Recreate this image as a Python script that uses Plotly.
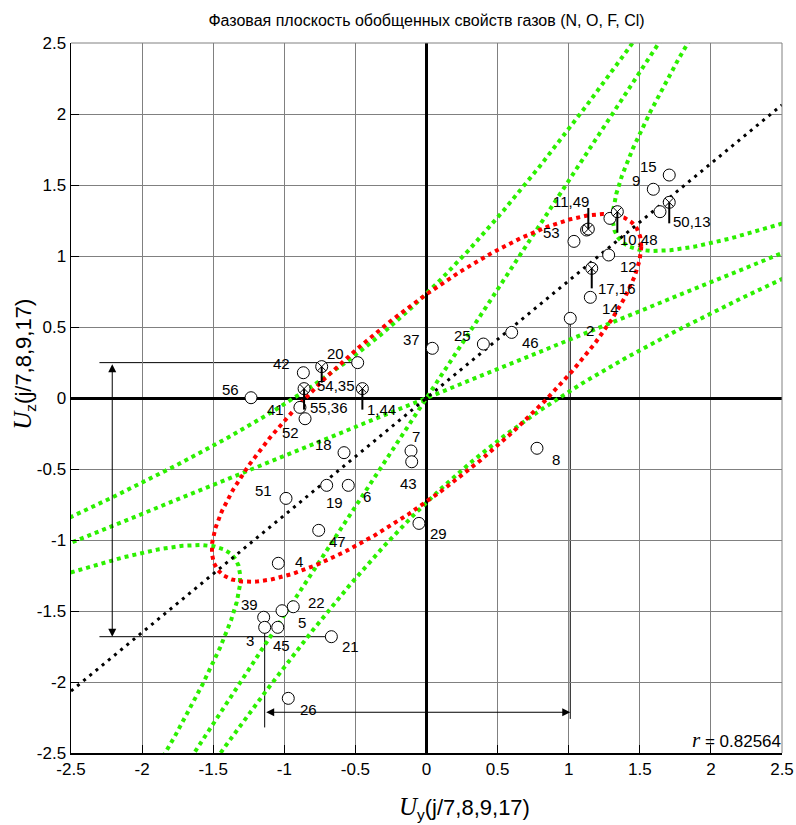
import numpy as np
import plotly.graph_objects as go

# ---------------- data ----------------
TITLE = "Фазовая плоскость обобщенных свойств газов (N, O, F, Cl)"
R_COEF = 0.82564

pt_labels = ["15", "9", "50,13", "", "10,48", "", "11,49", "", "53", "12",
             "17,16", "14", "2", "46", "25", "37", "20", "42", "54,35", "55,36",
             "41", "52", "1,44", "56", "18", "19", "6", "51", "7", "43",
             "8", "29", "47", "4", "22", "5", "39", "3", "45", "21", "26"]
pt_x = [1.707, 1.595, 1.707, 1.642, 1.342, 1.290, 1.138, 1.126, 1.037, 1.281,
        1.162, 1.152, 1.011, 0.599, 0.400, 0.041, -0.484, -0.866, -0.737, -0.861,
        -0.890, -0.854, -0.451, -1.234, -0.580, -0.702, -0.550, -0.988, -0.109, -0.104,
        0.777, -0.053, -0.758, -1.042, -0.937, -1.016, -1.145, -1.138, -1.046, -0.669, -0.972]
pt_y = [1.570, 1.470, 1.378, 1.312, 1.312, 1.265, 1.190, 1.183, 1.103, 1.007,
        0.913, 0.709, 0.561, 0.462, 0.380, 0.350, 0.249, 0.178, 0.221, 0.066,
        -0.066, -0.146, 0.066, 0.002, -0.385, -0.615, -0.615, -0.707, -0.373, -0.449,
        -0.354, -0.883, -0.932, -1.164, -1.470, -1.498, -1.544, -1.615, -1.615, -1.681, -2.115]
# 'x' = crossed circle (coincident points), 'o' = plain circle
pt_kind = ["o", "o", "x", "o", "x", "o", "x", "o", "o", "o",
           "x", "o", "o", "o", "o", "o", "o", "o", "x", "x",
           "o", "o", "x", "o", "o", "o", "o", "o", "o", "o",
           "o", "o", "o", "o", "o", "o", "o", "o", "o", "o", "o"]

# correlation ellipse: extents
ELL_X_EXTENT = 1.51
ELL_Y_EXTENT = 1.295
# hyperbolas (y - m1 x)(y - m2 x) = +-K and their asymptotes
ASYM_SLOPES = [0.408, 1.53]
HYP_K = 0.54

# range markers: points bounding the arrows
Y_RANGE_PTS = ["20", "21"]
X_RANGE_PTS = ["3", "2"]
Y_ARROW_X = -2.21
X_ARROW_Y = -2.213

TICK_VALS = [-2.5, -2, -1.5, -1, -0.5, 0, 0.5, 1, 1.5, 2, 2.5]
TICK_TEXT = ["-2.5", "-2", "-1.5", "-1", "-0.5", "0", "0.5", "1", "1.5", "2", "2.5"]

# ---------------- styling ----------------
SANS = "Liberation Sans, Arial, sans-serif"
GREEN = "#2cf000"
RED = "#ff0000"

# label offsets in pixels (dx right, dy down) and leader lines (pixels, up positive)
LABEL_OFF = {
    "15": (-21, -9), "9": (-17, -9), "50,13": (23, 19), "10,48": (22, 28),
    "11,49": (-17, -28), "53": (-22, -9), "12": (20, 11), "17,16": (25, 20),
    "14": (20, 11), "2": (20, 12), "46": (19, 10), "25": (-21, -9), "37": (-21, -9),
    "20": (-22, -9), "42": (-22, -9), "54,35": (14, 19), "55,36": (25, 19),
    "41": (-24, 2), "52": (-15, 14), "1,44": (19, 21), "56": (-21, -8),
    "18": (-21, -8), "19": (8, 17), "6": (19, 11), "51": (-23, -8), "7": (5, -14),
    "43": (-3, 22), "8": (19, 11), "29": (20, 10), "47": (19, 11), "4": (21, -2),
    "22": (23, -4), "5": (20, 12), "39": (-14, -13), "3": (-15, 13), "45": (4, 18),
    "21": (19, 10), "26": (20, 11),
}
LEADERS = {
    "50,13": (0, -21), "10,48": (0, -21), "11,49": (21, 0), "17,16": (0, -20),
    "54,35": (0, -16), "55,36": (0, -21), "1,44": (0, -21),
}

fig = go.Figure()

# hyperbolas
m1, m2 = ASYM_SLOPES
t = np.geomspace(1e-3, 20, 3000)
def branch(u, v):
    x = (u - v) / (m2 - m1)
    y = u + m1 * x
    return x, y

curves = []
curves.append(branch(t, -HYP_K / t))      # Q=-K upper right
curves.append(branch(-t, HYP_K / t))      # Q=-K lower left
curves.append(branch(t, HYP_K / t))       # Q=+K upper left
curves.append(branch(-t, -HYP_K / t))     # Q=+K lower right
for cx, cy in curves:
    m = (np.abs(cx) < 4) & (np.abs(cy) < 4)
    fig.add_trace(go.Scatter(x=cx[m], y=cy[m], mode="lines",
                             line=dict(color=GREEN, width=4, dash="4px,4px"),
                             hoverinfo="skip", showlegend=False))
for s in ASYM_SLOPES:
    xs = np.array([-4.0, 4.0])
    fig.add_trace(go.Scatter(x=xs, y=s * xs, mode="lines",
                             line=dict(color=GREEN, width=4, dash="4px,4px"),
                             hoverinfo="skip", showlegend=False))

# ellipse
th = np.linspace(0, 2 * np.pi, 721)
phi = np.arccos(R_COEF)
fig.add_trace(go.Scatter(x=ELL_X_EXTENT * np.cos(th), y=ELL_Y_EXTENT * np.cos(th - phi),
                         mode="lines", line=dict(color=RED, width=4, dash="4px,4px"),
                         hoverinfo="skip", showlegend=False))

# regression line
xr = np.array([-2.5, 2.5])
fig.add_trace(go.Scatter(x=xr, y=R_COEF * xr, mode="lines",
                         line=dict(color="black", width=3, dash="3px,5px"),
                         hoverinfo="skip", showlegend=False))

# points
ox = [x for x, k in zip(pt_x, pt_kind) if k == "o"]
oy = [y for y, k in zip(pt_y, pt_kind) if k == "o"]
xx = [x for x, k in zip(pt_x, pt_kind) if k == "x"]
xy = [y for y, k in zip(pt_y, pt_kind) if k == "x"]
fig.add_trace(go.Scatter(x=ox, y=oy, mode="markers",
                         marker=dict(symbol="circle", size=12, color="white",
                                     line=dict(color="black", width=1)),
                         showlegend=False))
fig.add_trace(go.Scatter(x=xx, y=xy, mode="markers",
                         marker=dict(symbol="circle-x", size=12, color="white",
                                     line=dict(color="black", width=1)),
                         showlegend=False))

pos = {l: (x, y) for l, x, y in zip(pt_labels, pt_x, pt_y) if l}

# labels
for lab, (x, y) in pos.items():
    dx, dy = LABEL_OFF.get(lab, (18, 10))
    fig.add_annotation(x=x, y=y, text=lab, showarrow=False, xshift=dx, yshift=-dy,
                       font=dict(family=SANS, size=15, color="black"))

shapes = []
for lab, (a, b) in LEADERS.items():
    x, y = pos[lab]
    shapes.append(dict(type="line", xref="x", yref="y", ysizemode="pixel", yanchor=y,
                       x0=x, x1=x, y0=a, y1=b, line=dict(color="black", width=2)))

# range guide lines
ya, yb = pos[Y_RANGE_PTS[0]][1], pos[Y_RANGE_PTS[1]][1]
xa, xb = pos[X_RANGE_PTS[0]][0], pos[X_RANGE_PTS[1]][0]
for lab in Y_RANGE_PTS:
    x, y = pos[lab]
    shapes.append(dict(type="line", xref="x", yref="y", x0=-2.3, x1=x, y0=y, y1=y,
                       line=dict(color="black", width=1), layer="below"))
for lab, yend in zip(X_RANGE_PTS, [-2.32, -2.26]):
    x, y = pos[lab]
    shapes.append(dict(type="line", xref="x", yref="y", x0=x, x1=x, y0=y, y1=yend,
                       line=dict(color="black", width=1), layer="below"))
# top / right frame in grey
shapes.append(dict(type="line", xref="paper", yref="paper", x0=0, x1=1, y0=1, y1=1,
                   line=dict(color="#808080", width=1)))
shapes.append(dict(type="line", xref="paper", yref="paper", x0=1, x1=1, y0=0, y1=1,
                   line=dict(color="#808080", width=1)))
fig.update_layout(shapes=shapes)

# double arrows
fig.add_annotation(x=Y_ARROW_X, y=yb, ax=Y_ARROW_X, ay=ya, xref="x", yref="y",
                   axref="x", ayref="y", text="", showarrow=True, arrowhead=2,
                   startarrowhead=2, arrowside="end+start", arrowsize=1.6,
                   startarrowsize=1.6, arrowwidth=1, arrowcolor="black")
fig.add_annotation(x=xb, y=X_ARROW_Y, ax=xa, ay=X_ARROW_Y, xref="x", yref="y",
                   axref="x", ayref="y", text="", showarrow=True, arrowhead=2,
                   startarrowhead=2, arrowside="end+start", arrowsize=1.6,
                   startarrowsize=1.6, arrowwidth=1, arrowcolor="black")

# r label
fig.add_annotation(x=2.5, y=-2.5, xref="x", yref="y", xanchor="right", yanchor="bottom",
                   showarrow=False, borderpad=0,
                   text=f"<span style='font-family:Liberation Serif;font-size:21px'><i>r</i></span> = {R_COEF}",
                   font=dict(family=SANS, size=17, color="black"))

# axis titles
fig.add_annotation(xref="paper", yref="paper", x=0.553, y=-0.078, showarrow=False,
                   xanchor="center", yanchor="middle",
                   text="<span style='font-family:Liberation Serif;font-size:25px'><i>U</i></span><sub>y</sub>(j/7,8,9,17)",
                   font=dict(family=SANS, size=22, color="black"))
fig.add_annotation(xref="paper", yref="paper", x=-0.066, y=0.547, showarrow=False,
                   xanchor="center", yanchor="middle", textangle=-90,
                   text="<span style='font-family:Liberation Serif;font-size:25px'><i>U</i></span><sub>z</sub>(j/7,8,9,17)",
                   font=dict(family=SANS, size=22, color="black"))

axis_common = dict(range=[-2.5, 2.5], tickvals=TICK_VALS, ticktext=TICK_TEXT,
                   showgrid=True, gridcolor="#808080", gridwidth=1,
                   zeroline=True, zerolinecolor="black", zerolinewidth=3,
                   showline=True, linecolor="black", linewidth=1.5,
                   ticks="inside", ticklen=8, tickcolor="black", tickwidth=1,
                   tickfont=dict(family=SANS, size=17, color="black"),
                   fixedrange=True, automargin=False)
fig.update_xaxes(**axis_common)
fig.update_yaxes(**axis_common)

fig.update_layout(
    width=796, height=825, autosize=False,
    margin=dict(l=71, r=14, t=43, b=72, autoexpand=False),
    paper_bgcolor="white", plot_bgcolor="white",
    title=dict(text=TITLE, x=0.5, xref="paper", xanchor="center",
               y=1 - 20 / 825, yref="container", yanchor="middle",
               font=dict(family=SANS, size=16, color="black"), automargin=False),
    showlegend=False,
)

fig.write_html("out.html",
               config={"responsive": False, "displayModeBar": False, "staticPlot": True},
               post_script="document.body.style.margin='0';document.body.style.overflow='hidden';")
